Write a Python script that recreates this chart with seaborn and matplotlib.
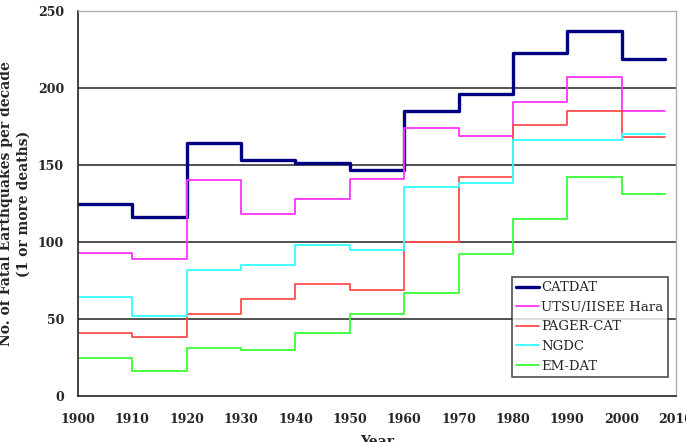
import numpy as np
import pandas as pd
import seaborn as sns
from matplotlib import pyplot as plt

# decade start years, last point (2008) closes the final step
years = [1900, 1910, 1920, 1930, 1940, 1950, 1960, 1970, 1980, 1990, 2000, 2008]

catdat = [125, 116, 164, 153, 151, 147, 185, 196, 223, 237, 219, 219]
utsu = [93, 89, 140, 118, 128, 141, 174, 169, 191, 207, 185, 185]
pager = [41, 38, 53, 63, 73, 69, 100, 142, 176, 185, 168, 168]
ngdc = [64, 52, 82, 85, 98, 95, 136, 138, 166, 166, 170, 170]
emdat = [25, 16, 31, 30, 41, 53, 67, 92, 115, 142, 131, 131]

series_names = ["CATDAT", "UTSU/IISEE Hara", "PAGER-CAT", "NGDC", "EM-DAT"]
series_vals = [catdat, utsu, pager, ngdc, emdat]
colors = ["#000080", "#FF33FF", "#FF4D4D", "#33FFFF", "#33FF33"]
widths = [2.4, 1.3, 1.3, 1.3, 1.3]

sns.set_theme(style="white")
plt.rcParams['font.family'] = ['DejaVu Serif']

df = pd.DataFrame({
    "year": years * len(series_names),
    "count": sum(series_vals, []),
    "source": sum([[n] * len(years) for n in series_names], []),
})

fig = plt.figure(figsize=(6.86, 4.42), dpi=100)
ax = fig.add_axes([78 / 686, (442 - 396) / 442, 598 / 686, 385 / 442])

for name, col, lw in zip(series_names, colors, widths):
    sub = df[df["source"] == name]
    sns.lineplot(data=sub, x="year", y="count", ax=ax, color=col, linewidth=lw,
                 drawstyle="steps-post", label=name)

ax.set_xlim(1900, 2010)
ax.set_ylim(0, 250)
ax.set_xticks(range(1900, 2011, 10))
ax.set_yticks(range(0, 251, 50))
for y in [50, 100, 150, 200]:
    ax.axhline(y, color="#333333", linewidth=1.2, zorder=0)

for s in ["top", "right"]:
    ax.spines[s].set_color("#b0b0b0")
    ax.spines[s].set_linewidth(1.0)
for s in ["left", "bottom"]:
    ax.spines[s].set_color("#222222")
    ax.spines[s].set_linewidth(1.2)

ax.tick_params(axis="both", direction="out", length=4, width=1, color="#222222",
               labelsize=9)
ax.tick_params(axis="y", pad=6)
ax.tick_params(axis="x", pad=8)
for lab in ax.get_xticklabels() + ax.get_yticklabels():
    lab.set_fontweight("bold")

ax.set_xlabel("Year", fontsize=10, fontweight="bold")
ax.xaxis.set_label_coords(0.5, -0.1)
ax.set_ylabel("No. of Fatal Earthquakes per decade\n(1 or more deaths)",
              fontsize=10, fontweight="bold", linespacing=1.3)
ax.yaxis.set_label_coords(-0.079, 0.5)

leg = ax.legend(loc="lower right", bbox_to_anchor=(0.987, 0.049), fontsize=9.5,
                frameon=True, fancybox=False, edgecolor="#222222",
                handlelength=1.7, handletextpad=0.2, labelspacing=0.5,
                borderpad=0.35, borderaxespad=0)
leg.get_frame().set_linewidth(1.2)

fig.savefig("out.png", dpi=100)
